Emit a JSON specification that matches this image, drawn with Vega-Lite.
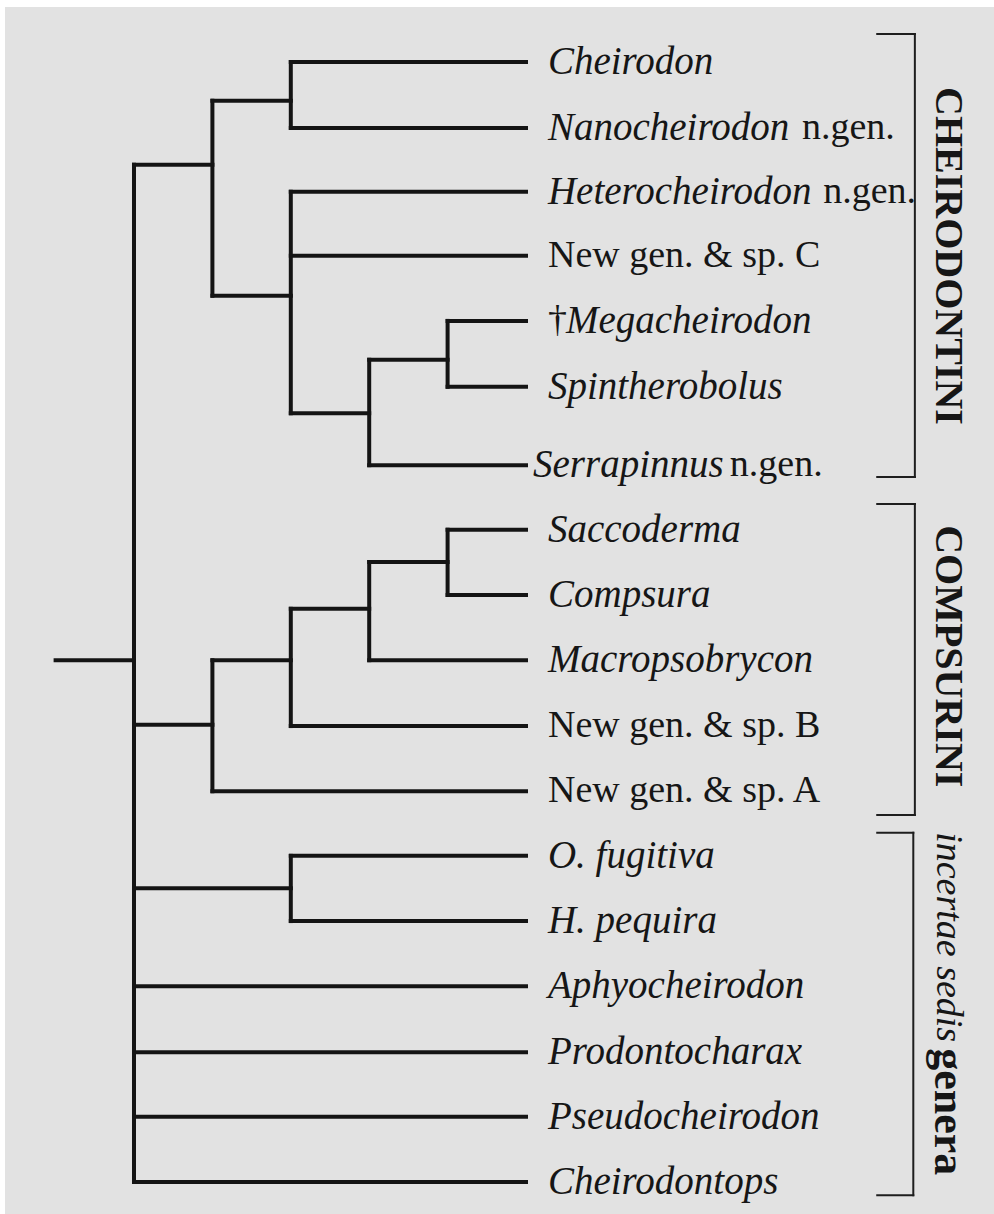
{
  "$schema": "https://vega.github.io/schema/vega-lite/v6.json",
  "width": 994,
  "height": 1214,
  "autosize": {"type": "fit", "contains": "padding"},
  "padding": {"left": 5, "top": 7, "right": 0, "bottom": 0},
  "background": "#ffffff",
  "config": {"view": {"stroke": null, "fill": "#e2e2e2"}},
  "datasets": {
    "segs": [
      {"kind": "branch", "x": -1, "x2": 0, "y": 10.08, "y2": 10.08},
      {"kind": "branch", "x": 2, "x2": 5, "y": 1, "y2": 1},
      {"kind": "branch", "x": 2, "x2": 5, "y": 2, "y2": 2},
      {"kind": "branch", "x": 2, "x2": 5, "y": 2.97, "y2": 2.97},
      {"kind": "branch", "x": 2, "x2": 5, "y": 3.94, "y2": 3.94},
      {"kind": "branch", "x": 4, "x2": 5, "y": 4.93, "y2": 4.93},
      {"kind": "branch", "x": 4, "x2": 5, "y": 5.93, "y2": 5.93},
      {"kind": "branch", "x": 3, "x2": 5, "y": 7.12, "y2": 7.12},
      {"kind": "branch", "x": 4, "x2": 5, "y": 8.1, "y2": 8.1},
      {"kind": "branch", "x": 4, "x2": 5, "y": 9.09, "y2": 9.09},
      {"kind": "branch", "x": 3, "x2": 5, "y": 10.08, "y2": 10.08},
      {"kind": "branch", "x": 2, "x2": 5, "y": 11.08, "y2": 11.08},
      {"kind": "branch", "x": 1, "x2": 5, "y": 12.07, "y2": 12.07},
      {"kind": "branch", "x": 2, "x2": 5, "y": 13.05, "y2": 13.05},
      {"kind": "branch", "x": 2, "x2": 5, "y": 14.04, "y2": 14.04},
      {"kind": "branch", "x": 0, "x2": 5, "y": 15.03, "y2": 15.03},
      {"kind": "branch", "x": 0, "x2": 5, "y": 16.03, "y2": 16.03},
      {"kind": "branch", "x": 0, "x2": 5, "y": 17.01, "y2": 17.01},
      {"kind": "branch", "x": 0, "x2": 5, "y": 18, "y2": 18},
      {"kind": "branch", "x": 1, "x2": 2, "y": 1.59, "y2": 1.59},
      {"kind": "branch", "x": 1, "x2": 2, "y": 4.55, "y2": 4.55},
      {"kind": "branch", "x": 2, "x2": 3, "y": 6.33, "y2": 6.33},
      {"kind": "branch", "x": 3, "x2": 4, "y": 5.52, "y2": 5.52},
      {"kind": "branch", "x": 0, "x2": 1, "y": 2.56, "y2": 2.56},
      {"kind": "branch", "x": 3, "x2": 4, "y": 8.59, "y2": 8.59},
      {"kind": "branch", "x": 2, "x2": 3, "y": 9.3, "y2": 9.3},
      {"kind": "branch", "x": 1, "x2": 2, "y": 10.08, "y2": 10.08},
      {"kind": "branch", "x": 0, "x2": 1, "y": 11.06, "y2": 11.06},
      {"kind": "branch", "x": 0, "x2": 2, "y": 13.54, "y2": 13.54},
      {"kind": "branch", "x": 2, "x2": 2, "y": 1, "y2": 2},
      {"kind": "branch", "x": 4, "x2": 4, "y": 4.93, "y2": 5.93},
      {"kind": "branch", "x": 3, "x2": 3, "y": 5.52, "y2": 7.12},
      {"kind": "branch", "x": 2, "x2": 2, "y": 2.97, "y2": 6.33},
      {"kind": "branch", "x": 1, "x2": 1, "y": 1.59, "y2": 4.55},
      {"kind": "branch", "x": 4, "x2": 4, "y": 8.1, "y2": 9.09},
      {"kind": "branch", "x": 3, "x2": 3, "y": 8.59, "y2": 10.08},
      {"kind": "branch", "x": 2, "x2": 2, "y": 9.3, "y2": 11.08},
      {"kind": "branch", "x": 1, "x2": 1, "y": 10.08, "y2": 12.07},
      {"kind": "branch", "x": 2, "x2": 2, "y": 13.05, "y2": 14.04},
      {"kind": "branch", "x": 0, "x2": 0, "y": 2.56, "y2": 18},
      {"kind": "bracket", "x": 9.96, "x2": 9.96, "y": 0.575, "y2": 7.3},
      {"kind": "bracket", "x": 9.48, "x2": 9.96, "y": 0.575, "y2": 0.575},
      {"kind": "bracket", "x": 9.48, "x2": 9.96, "y": 7.3, "y2": 7.3},
      {"kind": "bracket", "x": 9.96, "x2": 9.96, "y": 7.71, "y2": 12.43},
      {"kind": "bracket", "x": 9.48, "x2": 9.96, "y": 7.71, "y2": 7.71},
      {"kind": "bracket", "x": 9.48, "x2": 9.96, "y": 12.43, "y2": 12.43},
      {"kind": "bracket", "x": 9.94, "x2": 9.94, "y": 12.7, "y2": 18.2},
      {"kind": "bracket", "x": 9.48, "x2": 9.94, "y": 12.7, "y2": 12.7},
      {"kind": "bracket", "x": 9.48, "x2": 9.94, "y": 18.2, "y2": 18.2}
    ],
    "labels": [
      {"text": "Cheirodon", "style": "i", "x": 5.28, "y": 1},
      {"text": "Nanocheirodon", "style": "i", "x": 5.28, "y": 2},
      {"text": "n.gen.", "style": "r", "x": 8.52, "y": 2},
      {"text": "Heterocheirodon", "style": "i", "x": 5.28, "y": 2.97},
      {"text": "n.gen.", "style": "r", "x": 8.79, "y": 2.97},
      {"text": "New gen. & sp. C", "style": "r", "x": 5.28, "y": 3.94},
      {"text": "†", "style": "r", "x": 5.28, "y": 4.93},
      {"text": "Megacheirodon", "style": "i", "x": 5.51, "y": 4.93},
      {"text": "Spintherobolus", "style": "i", "x": 5.28, "y": 5.93},
      {"text": "Serrapinnus", "style": "i", "x": 5.09, "y": 7.12},
      {"text": "n.gen.", "style": "r", "x": 7.6, "y": 7.12},
      {"text": "Saccoderma", "style": "i", "x": 5.28, "y": 8.1},
      {"text": "Compsura", "style": "i", "x": 5.28, "y": 9.09},
      {"text": "Macropsobrycon", "style": "i", "x": 5.28, "y": 10.08},
      {"text": "New gen. & sp. B", "style": "r", "x": 5.28, "y": 11.08},
      {"text": "New gen. & sp. A", "style": "r", "x": 5.28, "y": 12.07},
      {"text": "O. fugitiva", "style": "i", "x": 5.28, "y": 13.05},
      {"text": "H. pequira", "style": "i", "x": 5.28, "y": 14.04},
      {"text": "Aphyocheirodon", "style": "i", "x": 5.28, "y": 15.03},
      {"text": "Prodontocharax", "style": "i", "x": 5.28, "y": 16.03},
      {"text": "Pseudocheirodon", "style": "i", "x": 5.28, "y": 17.01},
      {"text": "Cheirodontops", "style": "i", "x": 5.28, "y": 18}
    ],
    "groups": [
      {"text": "CHEIRODONTINI", "style": "b", "x": 10.38, "y": 1.38},
      {"text": "COMPSURINI", "style": "b", "x": 10.38, "y": 8.03},
      {"text": "incertae sedis", "style": "i", "x": 10.38, "y": 12.69},
      {"text": "genera", "style": "g", "x": 10.38, "y": 15.97}
    ]
  },
  "encoding": {
    "x": {"field": "x", "type": "quantitative", "axis": null, "scale": {"domain": [-1.6454, 10.9694], "nice": false, "zero": false}},
    "y": {"field": "y", "type": "quantitative", "axis": null, "scale": {"domain": [0.1652, 18.4864], "nice": false, "zero": false, "reverse": true}}
  },
  "layer": [
    {
      "data": {"name": "segs"},
      "transform": [{"filter": "datum.kind === 'branch'"}],
      "mark": {"type": "rule", "strokeWidth": 4, "strokeCap": "square", "color": "#141414"},
      "encoding": {"x2": {"field": "x2"}, "y2": {"field": "y2"}}
    },
    {
      "data": {"name": "segs"},
      "transform": [{"filter": "datum.kind === 'bracket'"}],
      "mark": {"type": "rule", "strokeWidth": 2, "strokeCap": "square", "color": "#1e1e1e"},
      "encoding": {"x2": {"field": "x2"}, "y2": {"field": "y2"}}
    },
    {
      "data": {"name": "labels"},
      "transform": [{"filter": "datum.style === 'i'"}],
      "mark": {"type": "text", "align": "left", "baseline": "middle", "font": "Liberation Serif", "fontStyle": "italic", "fontSize": 39, "color": "#161616"},
      "encoding": {"text": {"field": "text"}}
    },
    {
      "data": {"name": "labels"},
      "transform": [{"filter": "datum.style === 'r'"}],
      "mark": {"type": "text", "align": "left", "baseline": "middle", "font": "Liberation Serif", "fontSize": 38, "color": "#161616"},
      "encoding": {"text": {"field": "text"}}
    },
    {
      "data": {"name": "groups"},
      "transform": [{"filter": "datum.style === 'b'"}],
      "mark": {"type": "text", "align": "left", "baseline": "middle", "angle": 90, "font": "Liberation Serif", "fontWeight": "bold", "fontSize": 40, "color": "#161616"},
      "encoding": {"text": {"field": "text"}}
    },
    {
      "data": {"name": "groups"},
      "transform": [{"filter": "datum.style === 'g'"}],
      "mark": {"type": "text", "align": "left", "baseline": "middle", "angle": 90, "font": "Liberation Serif", "fontWeight": "bold", "fontSize": 44, "color": "#161616"},
      "encoding": {"text": {"field": "text"}}
    },
    {
      "data": {"name": "groups"},
      "transform": [{"filter": "datum.style === 'i'"}],
      "mark": {"type": "text", "align": "left", "baseline": "middle", "angle": 90, "font": "Liberation Serif", "fontStyle": "italic", "fontSize": 38, "color": "#161616"},
      "encoding": {"text": {"field": "text"}}
    }
  ]
}
